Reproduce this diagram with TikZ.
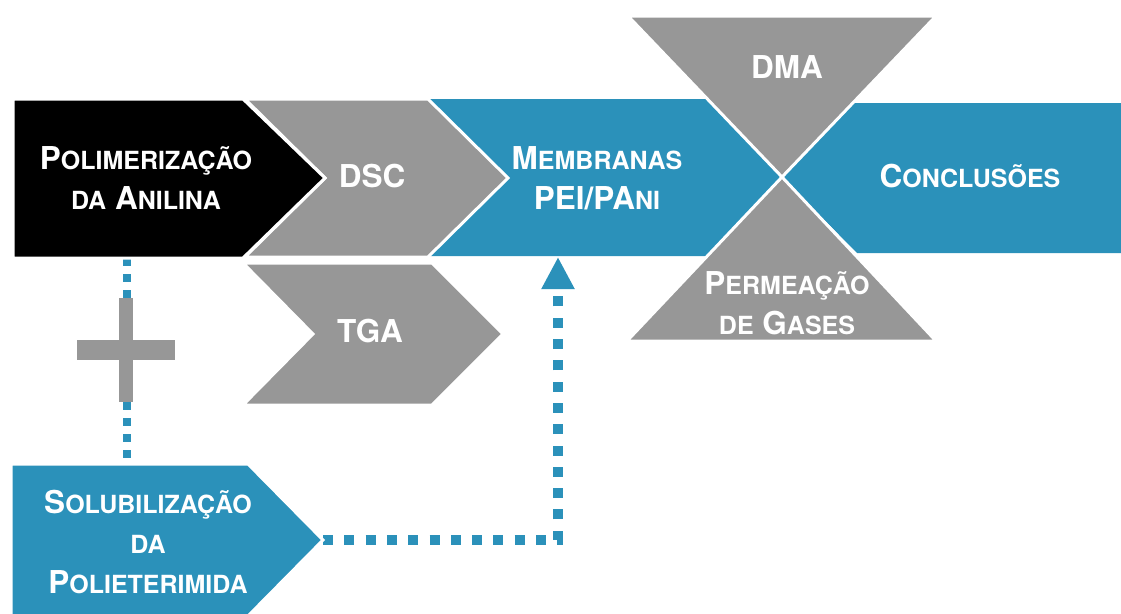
\documentclass[tikz,border=0pt]{standalone}
\usepackage{fontspec}
\setmainfont{TeX Gyre Heros}
\usetikzlibrary{arrows.meta}
\definecolor{stageblue}{RGB}{43,145,186}
\definecolor{stagegray}{RGB}{151,151,151}
\newcommand\lowcaps[1]{{\fontsize{25}{40}\selectfont\MakeUppercase{#1}}}
\tikzset{
  stagetext/.style={text=white, align=center,
    font=\fontsize{31.5}{40}\selectfont\bfseries},
  stageshape/.style={draw=white, line width=3pt},
  dotlink/.style={stageblue, line width=8pt, dash pattern=on 8pt off 8pt},
  flowlink/.style={stageblue, line width=10pt, dash pattern=on 10pt off 11.3pt,
    -{Triangle[width=31pt,length=32pt]}}
}
\begin{document}
\begin{tikzpicture}[x=1pt, y=-1pt]
  \useasboundingbox (0,0) rectangle (1121,613);
  % connector ends
  \coordinate (polim-foot) at (127,258);
  \coordinate (solub-head) at (127,464);
  \coordinate (solub-tip) at (323,540);
  \coordinate (memb-foot) at (558,257);
  \draw[dotlink] (polim-foot) -- (solub-head);
  \draw[flowlink] (solub-tip) -| (memb-foot);
  % blue band
  \fill[stageblue] (853,103) -- (1125,103) -- (1125,253) -- (857,253) -- (782,177) -- cycle;
  \fill[stageblue] (428,99) -- (712,99) -- (782,177) -- (712,256) -- (428,256) -- cycle;
  % hourglass
  \filldraw[stageshape, fill=stagegray] (628,16) -- (936,16) -- (782,177) -- cycle;
  \filldraw[stageshape, fill=stagegray] (627,341) -- (936,341) -- (782,177) -- cycle;
  % chevrons
  \filldraw[stageshape, fill=stagegray] (245,99) -- (428,99) -- (508,178) -- (428,257) -- (245,257) -- (325,178) -- cycle;
  \filldraw[stageshape, fill=black] (13,99) -- (243,99) -- (325,178) -- (243,258) -- (13,258) -- cycle;
  \filldraw[stageshape, fill=stagegray] (243,263) -- (432,263) -- (503,334) -- (432,405) -- (243,405) -- (313,334) -- cycle;
  \filldraw[stageshape, fill=stageblue] (11,464) -- (248,464) -- (323,540) -- (248,616) -- (11,616) -- cycle;
  % plus sign
  \fill[stagegray] (77,340) rectangle (175,360);
  \fill[stagegray] (119,298) rectangle (133,402);
  % labels
  \node[stagetext] (polim) at (146,178) {P\lowcaps{olimerização}\\\lowcaps{da} A\lowcaps{nilina}};
  \node[stagetext] (dsc) at (372,176) {DSC};
  \node[stagetext] (tga) at (370,331) {TGA};
  \node[stagetext] (memb) at (597,178) {M\lowcaps{embranas}\\PEI/PA\lowcaps{ni}};
  \node[stagetext] (dma) at (787,67) {DMA};
  \node[stagetext] (perm) at (787,303) {P\lowcaps{ermeação}\\\lowcaps{de} G\lowcaps{ases}};
  \node[stagetext] (concl) at (970,176) {C\lowcaps{onclusões}};
  \node[stagetext] (solub) at (148,542) {S\lowcaps{olubilização}\\\lowcaps{da}\\P\lowcaps{olieterimida}};
\end{tikzpicture}
\end{document}
